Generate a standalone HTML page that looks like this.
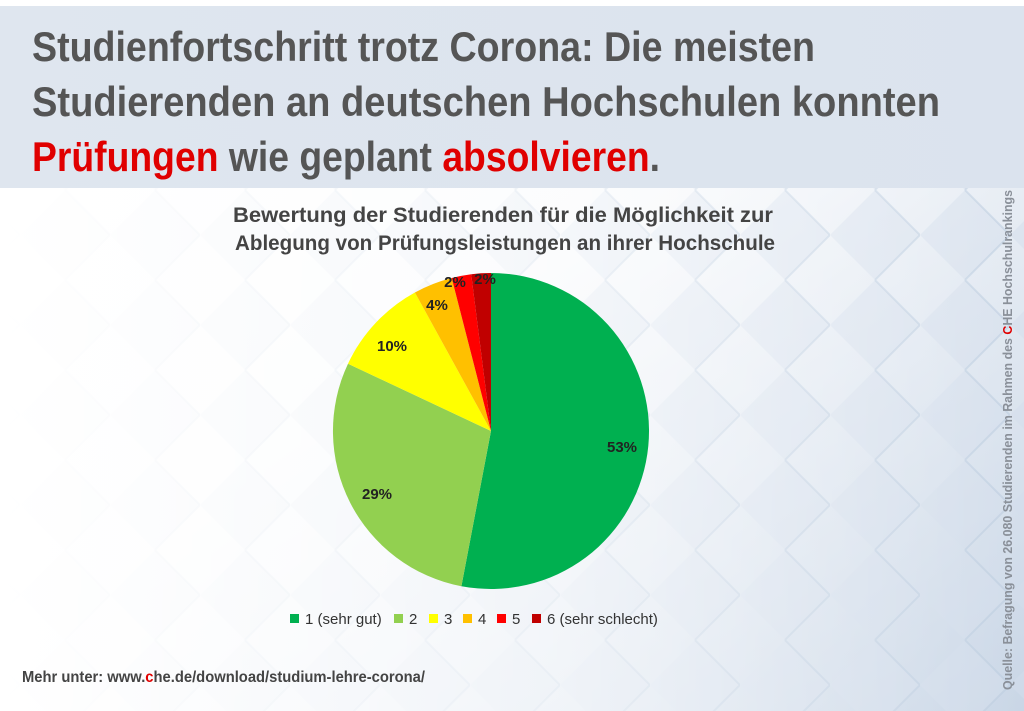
<!DOCTYPE html>
<html><head><meta charset="utf-8"><style>
html,body{margin:0;padding:0;width:1024px;height:711px;overflow:hidden;background:#fff}
svg{display:block}
text{font-family:"Liberation Sans Narrow","Liberation Sans",sans-serif;font-weight:bold}
</style></head><body>
<svg width="1024" height="711" viewBox="0 0 1024 711" xmlns="http://www.w3.org/2000/svg">
<defs>
<linearGradient id="bg" x1="0" y1="0" x2="1" y2="1">
<stop offset="0" stop-color="#ffffff"/><stop offset="0.45" stop-color="#f6f8fb"/><stop offset="1" stop-color="#c9d6e6"/>
</linearGradient>
<linearGradient id="hd" x1="0" y1="0" x2="1" y2="0">
<stop offset="0" stop-color="#dfe6ef"/><stop offset="1" stop-color="#dbe3ee"/>
</linearGradient>
<pattern id="dia" width="90" height="90" patternUnits="userSpaceOnUse" patternTransform="translate(20,10)">
<path d="M45 0 L90 45 L45 90 L0 45 Z" fill="#d3deeb" opacity="0.5"/>
<path d="M45 0 L90 45 L45 90" fill="none" stroke="#b8c9dd" stroke-width="2" opacity="0.5"/>
</pattern>
<linearGradient id="fade" x1="0" y1="0" x2="1" y2="0">
<stop offset="0" stop-color="#fff" stop-opacity="1"/><stop offset="0.55" stop-color="#fff" stop-opacity="0.6"/><stop offset="1" stop-color="#fff" stop-opacity="0"/>
</linearGradient>
</defs>
<rect width="1024" height="711" fill="url(#bg)"/>
<rect x="0" y="188" width="1024" height="523" fill="url(#dia)"/>
<rect x="0" y="188" width="1024" height="523" fill="url(#fade)"/>
<rect x="0" y="0" width="1024" height="188" fill="url(#hd)"/>
<rect x="0" y="0" width="1024" height="6" fill="#fff"/>

<text x="32" y="61" font-size="42" fill="#555" textLength="783" lengthAdjust="spacingAndGlyphs">Studienfortschritt trotz Corona: Die meisten</text>
<text x="32" y="116" font-size="42" fill="#555" textLength="908" lengthAdjust="spacingAndGlyphs">Studierenden an deutschen Hochschulen konnten</text>
<text x="32" y="171" font-size="42" fill="#555" textLength="628" lengthAdjust="spacingAndGlyphs"><tspan fill="#e00000">Prüfungen</tspan> wie geplant <tspan fill="#e00000">absolvieren</tspan>.</text>

<text x="233" y="222" font-size="21" fill="#444" textLength="540" lengthAdjust="spacingAndGlyphs">Bewertung der Studierenden für die Möglichkeit zur</text>
<text x="235" y="250" font-size="21" fill="#444" textLength="540" lengthAdjust="spacingAndGlyphs">Ablegung von Prüfungsleistungen an ihrer Hochschule</text>

<g stroke="none">
<path d="M491 431 L491 273 A158 158 0 1 1 461.4 586.2 Z" fill="#00b050"/>
<path d="M491 431 L461.4 586.2 A158 158 0 0 1 348 363.7 Z" fill="#92d050"/>
<path d="M491 431 L348 363.7 A158 158 0 0 1 414.9 292.5 Z" fill="#ffff00"/>
<path d="M491 431 L414.9 292.5 A158 158 0 0 1 451.7 278 Z" fill="#ffc000"/>
<path d="M491 431 L451.7 278 A158 158 0 0 1 471.2 274.2 Z" fill="#ff0000"/>
<path d="M491 431 L471.2 274.2 A158 158 0 0 1 491 273 Z" fill="#c00000"/>
</g>
<g font-size="15" fill="#222" text-anchor="middle">
<text x="622" y="452">53%</text>
<text x="377" y="499">29%</text>
<text x="392" y="351">10%</text>
<text x="437" y="310">4%</text>
<text x="455" y="287">2%</text>
<text x="485" y="284">2%</text>
</g>

<g font-size="15" fill="#333" style="font-weight:normal">
<rect x="290" y="614" width="9" height="9" fill="#00b050"/><text x="305" y="624" style="font-weight:normal">1 (sehr gut)</text>
<rect x="394" y="614" width="9" height="9" fill="#92d050"/><text x="409" y="624" style="font-weight:normal">2</text>
<rect x="429" y="614" width="9" height="9" fill="#ffff00"/><text x="444" y="624" style="font-weight:normal">3</text>
<rect x="463" y="614" width="9" height="9" fill="#ffc000"/><text x="478" y="624" style="font-weight:normal">4</text>
<rect x="497" y="614" width="9" height="9" fill="#ff0000"/><text x="512" y="624" style="font-weight:normal">5</text>
<rect x="532" y="614" width="9" height="9" fill="#c00000"/><text x="547" y="624" style="font-weight:normal">6 (sehr schlecht)</text>
</g>

<text x="22" y="682" font-size="16" fill="#444" textLength="403" lengthAdjust="spacingAndGlyphs">Mehr unter: www.<tspan fill="#e00000">c</tspan>he.de/download/studium-lehre-corona/</text>

<text transform="translate(1012,690) rotate(-90)" font-size="13" fill="#8a9099" textLength="500" lengthAdjust="spacingAndGlyphs" style="font-family:'Liberation Sans',sans-serif">Quelle: Befragung von 26.080 Studierenden im Rahmen des <tspan fill="#e00000">C</tspan>HE Hochschulrankings</text>
</svg>
</body></html>
